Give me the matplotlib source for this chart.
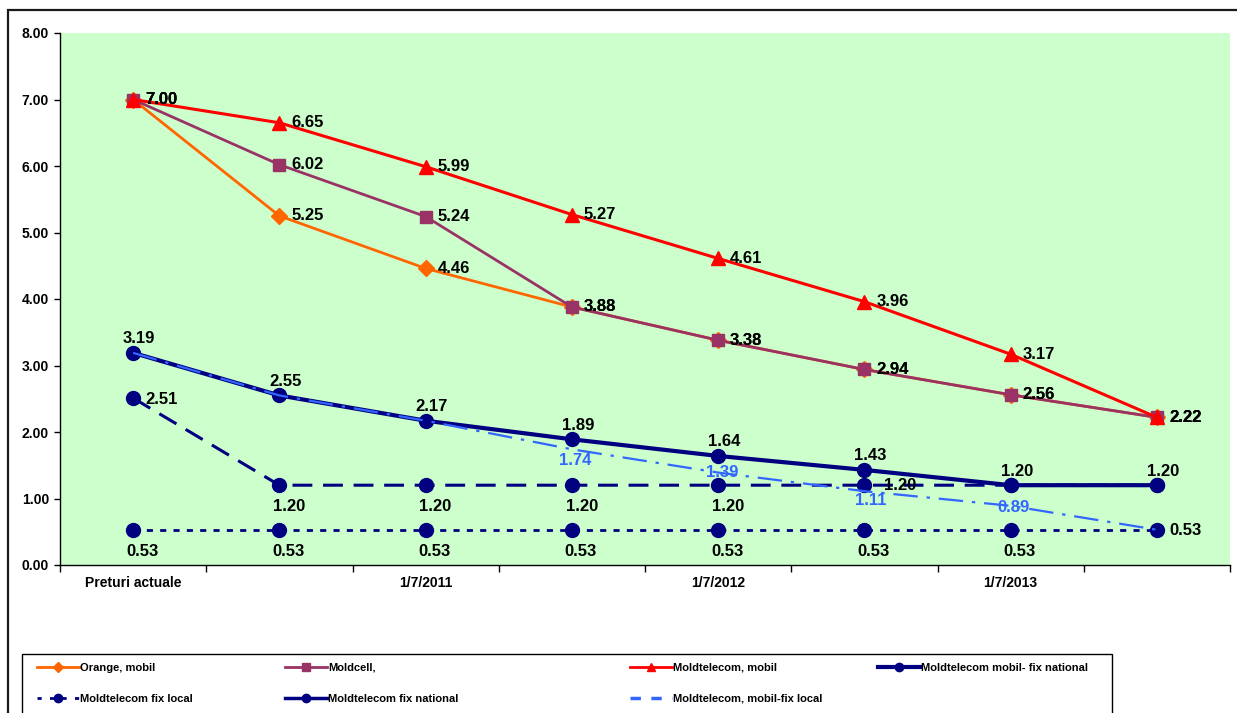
import numpy as np
import matplotlib
matplotlib.use("Agg")
import matplotlib.pyplot as plt
from matplotlib.lines import Line2D
from matplotlib.patches import Rectangle

plt.rcParams['font.family'] = ['Liberation Sans', 'DejaVu Sans']
plt.rcParams['font.weight'] = 'bold'

# DATE

categorii = ['Preturi actuale', '', '1/7/2011', '', '1/7/2012', '', '1/7/2013', '']

orange_mobil = [7.00, 5.25, 4.46, 3.88, 3.38, 2.94, 2.56, 2.22]
moldcell = [7.00, 6.02, 5.24, 3.88, 3.38, 2.94, 2.56, 2.22]
mt_mobil = [7.00, 6.65, 5.99, 5.27, 4.61, 3.96, 3.17, 2.22]
mt_mobil_fix_nat = [3.19, 2.55, 2.17, 1.89, 1.64, 1.43, 1.20, 1.20]
mt_fix_local = [0.53, 0.53, 0.53, 0.53, 0.53, 0.53, 0.53, 0.53]
mt_fix_nat = [2.51, 1.20, 1.20, 1.20, 1.20, 1.20, 1.20, 1.20]
mt_mobil_fix_local = [3.19, 2.55, 2.17, 1.74, 1.39, 1.11, 0.89, 0.53]

W, H = 1237, 713

def px(v):
    # pixeli -> puncte (dpi 100)
    return v * 0.72

fig = plt.figure(figsize=(W / 100, H / 100), dpi=100)
fig.patch.set_facecolor('white')

# chenar exterior
fig.patches.append(Rectangle((8 / W, -0.1), 1.2, 1 - 10 / H + 0.1, transform=fig.transFigure,
                             fill=False, edgecolor='#1a1a1a', linewidth=1.6, zorder=0))

ax = fig.add_axes([60 / W, 1 - 565 / H, 1170 / W, 532 / H])
ax.set_facecolor('#CCFFCC')
x = np.arange(len(categorii))

ax.plot(x, orange_mobil, color='#FF6600', lw=2.0, marker='D', ms=8, zorder=3)
ax.plot(x, moldcell, color='#993366', lw=2.0, marker='s', ms=9, zorder=4)
ax.plot(x, mt_mobil, color='#FF0000', lw=2.2, marker='^', ms=10, zorder=5)
ax.plot(x, mt_mobil_fix_nat, color='#000080', lw=3.0, marker='o', ms=10, zorder=5)
ax.plot(x, mt_fix_local, color='#000080', lw=2.0, marker='o', ms=10,
        linestyle=(0, (2.2, 2.6)), zorder=4)
ax.plot(x, mt_fix_nat, color='#000080', lw=2.2, marker='o', ms=10,
        linestyle=(0, (6.5, 3.5)), zorder=4)
ax.plot(x, mt_mobil_fix_local, color='#3366FF', lw=1.6,
        linestyle=(0, (11, 4, 1.5, 4)), zorder=6)

fs = 12

def label(xi, yi, txt, dx, dy, ha='left', color='black'):
    ax.annotate(txt, (xi, yi), xytext=(px(dx), px(dy)), textcoords='offset points',
                ha=ha, va='center', fontsize=fs, fontweight='bold', color=color, zorder=8)

for serie in (orange_mobil, moldcell, mt_mobil):
    for i, v in enumerate(serie):
        label(i, v, '%.2f' % v, 12, 0)

for i, v in enumerate(mt_mobil_fix_nat):
    label(i, v, '%.2f' % v, 6, 14, ha='center')

for i, v in enumerate(mt_fix_local):
    if i == len(mt_fix_local) - 1:
        label(i, v, '%.2f' % v, 12, -1)
    else:
        label(i, v, '%.2f' % v, 9, -22, ha='center')

for i, v in enumerate(mt_fix_nat):
    if i == 0:
        label(i, v, '%.2f' % v, 12, -1)
    elif i == 5:
        label(i, v, '%.2f' % v, 20, 0)
    elif i < 5:
        label(i, v, '%.2f' % v, 10, -21, ha='center')

blue_off = {3: (3, -11), 4: (4, 0), 5: (6, -9), 6: (3, -2)}
for i, (dx, dy) in blue_off.items():
    label(i, mt_mobil_fix_local[i], '%.2f' % mt_mobil_fix_local[i], dx, dy,
          ha='center', color='#3366FF')

ax.set_xlim(-0.5, len(categorii) - 0.5)
ax.set_ylim(0, 8)
ax.set_yticks(np.arange(0, 9))
ax.set_yticklabels(['%.2f' % v for v in range(9)], fontsize=10, fontweight='bold')
ax.set_xticks(x, minor=True)
ax.set_xticklabels(categorii, minor=True, fontsize=10, fontweight='bold')
ax.set_xticks(np.arange(-0.5, len(categorii)))
ax.set_xticklabels([])
ax.tick_params(axis='x', which='minor', length=0, pad=8)
ax.tick_params(axis='x', which='major', length=5, width=1, direction='out')
ax.tick_params(axis='y', length=4, width=1, direction='out', pad=4)
for s in ('top', 'right'):
    ax.spines[s].set_visible(False)
for s in ('left', 'bottom'):
    ax.spines[s].set_color('black')
    ax.spines[s].set_linewidth(1)

# legenda: chenar + 4 coloane puse manual (ca in Excel)
fig.patches.append(Rectangle((22 / W, -0.1), 1090 / W, 1 - 654 / H + 0.1,
                             transform=fig.transFigure, fill=False,
                             edgecolor='black', linewidth=1, zorder=1))

coloane = [
    (37, [Line2D([], [], color='#FF6600', lw=2, marker='D', ms=5),
          Line2D([], [], color='#000080', lw=2, marker='o', ms=6, linestyle=(0, (1.5, 3)))],
     ['Orange, mobil', 'Moldtelecom fix local']),
    (285, [Line2D([], [], color='#993366', lw=2, marker='s', ms=6),
           Line2D([], [], color='#000080', lw=2.5, marker='o', ms=6)],
     ['Moldcell,', 'Moldtelecom fix national']),
    (630, [Line2D([], [], color='#FF0000', lw=2, marker='^', ms=6),
           Line2D([], [], color='#3366FF', lw=2.5, linestyle=(0, (3, 3)))],
     ['Moldtelecom, mobil', 'Moldtelecom, mobil-fix local']),
    (878, [Line2D([], [], color='#000080', lw=3, marker='o', ms=6)],
     ['Moldtelecom mobil- fix national']),
]
for x0, hs, ls in coloane:
    fig.legend(hs, ls, loc='upper left', bbox_to_anchor=(x0 / W, 1 - 663 / H),
               borderaxespad=0, borderpad=0, prop={'weight': 'bold', 'size': 8},
               frameon=False, handlelength=3.8, handletextpad=0.1, labelspacing=1.85)

fig.savefig('out.png', dpi=100, facecolor='white')
